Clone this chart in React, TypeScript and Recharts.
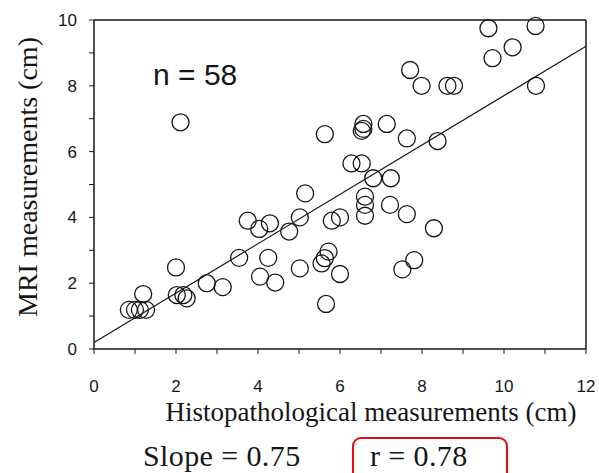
import { ScatterChart, Scatter, XAxis, YAxis, ReferenceLine } from "recharts";

// histopathological size (x) vs MRI size (y), both in cm
const histoCm = [
  0.85, 1.0, 1.12, 1.27, 1.2, 2.0, 2.02, 2.18, 2.26, 2.11,
  2.75, 3.14, 3.54, 3.75, 4.03, 4.29, 4.05, 4.25, 4.42, 4.76,
  5.02, 5.02, 5.15, 5.66, 5.55, 5.63, 5.72, 5.8, 6.0, 6.0,
  5.63, 6.28, 6.53, 6.81, 7.24, 6.61, 6.61, 6.61, 7.22, 7.63,
  8.29, 7.52, 7.81, 6.57, 6.57, 6.53, 7.14, 7.63, 8.38, 7.71,
  7.99, 8.62, 8.78, 10.78, 9.62, 10.77, 10.21, 9.72,
];
const mriCm = [
  1.19, 1.19, 1.19, 1.19, 1.67, 2.48, 1.64, 1.64, 1.54, 6.89,
  2.0, 1.88, 2.77, 3.9, 3.65, 3.82, 2.2, 2.77, 2.02, 3.57,
  4.0, 2.45, 4.73, 1.37, 2.6, 2.76, 2.96, 3.9, 4.0, 2.28,
  6.53, 5.64, 5.64, 5.19, 5.19, 4.63, 4.38, 4.05, 4.38, 4.1,
  3.67, 2.42, 2.7, 6.84, 6.69, 6.63, 6.84, 6.4, 6.32, 8.48,
  8.0, 8.0, 8.0, 8.0, 9.75, 9.82, 9.17, 8.84,
];

const xTicks = [0, 1, 2, 3, 4, 5, 6, 7, 8, 9, 10, 11, 12];
const yTicks = [0, 1, 2, 3, 4, 5, 6, 7, 8, 9, 10];

const slope = 0.75;
const intercept = 0.2;
const sampleSize = 58;
const rValue = 0.78;

const points = histoCm.map((x, i) => ({ x, y: mriCm[i] }));

const ink = "#161616";
const sans = "'Liberation Sans', Arial, sans-serif";
const serif = "'Liberation Serif', 'Times New Roman', serif";

const evenOnly = (v: number) => (v % 2 === 0 ? String(v) : "");
const blank = () => "";

const Ring = (props: any) => (
  <circle
    cx={props.cx}
    cy={props.cy}
    r={8.5}
    fill="none"
    stroke={ink}
    strokeWidth={1.3}
  />
);

export default function App() {
  const tickStyle = { fontSize: 17, fill: ink, fontFamily: sans };

  return (
    <div
      style={{
        position: "relative",
        width: 599,
        height: 473,
        overflow: "hidden",
        background: "#fff",
      }}
    >
      <style>{"body{margin:0}"}</style>

      <ScatterChart
        width={599}
        height={473}
        margin={{ top: 0, right: 0, bottom: 0, left: 0 }}
      >
        <XAxis
          xAxisId="b"
          type="number"
          dataKey="x"
          domain={[0, 12]}
          ticks={xTicks}
          tickFormatter={evenOnly}
          interval={0}
          height={124}
          tick={tickStyle}
          tickSize={5}
          tickMargin={26}
          axisLine={{ stroke: ink, strokeWidth: 1.5 }}
          tickLine={{ stroke: ink }}
        />
        <XAxis
          xAxisId="t"
          orientation="top"
          type="number"
          domain={[0, 12]}
          ticks={xTicks}
          tickFormatter={blank}
          interval={0}
          height={20}
          tickSize={5}
          axisLine={{ stroke: ink, strokeWidth: 1.5 }}
          tickLine={{ stroke: ink }}
        />
        <YAxis
          yAxisId="l"
          type="number"
          dataKey="y"
          domain={[0, 10]}
          ticks={yTicks}
          tickFormatter={evenOnly}
          interval={0}
          width={94}
          tick={tickStyle}
          tickSize={5}
          tickMargin={12}
          axisLine={{ stroke: ink, strokeWidth: 1.5 }}
          tickLine={{ stroke: ink }}
        />
        <YAxis
          yAxisId="r"
          orientation="right"
          type="number"
          domain={[0, 10]}
          ticks={yTicks}
          tickFormatter={blank}
          interval={0}
          width={13}
          tickSize={5}
          axisLine={{ stroke: ink, strokeWidth: 1.5 }}
          tickLine={{ stroke: ink }}
        />
        <ReferenceLine
          xAxisId="b"
          yAxisId="l"
          segment={[
            { x: 0, y: intercept },
            { x: 12, y: intercept + slope * 12 },
          ]}
          stroke={ink}
          strokeWidth={1.2}
        />
        <Scatter
          xAxisId="b"
          yAxisId="l"
          data={points}
          shape={Ring}
          isAnimationActive={false}
        />
      </ScatterChart>

      <div
        style={{
          position: "absolute",
          left: 153,
          top: 60,
          lineHeight: 1,
          whiteSpace: "nowrap",
          fontFamily: sans,
          fontSize: 30,
          color: ink,
        }}
      >
        n = {sampleSize}
      </div>

      <div
        style={{
          position: "absolute",
          left: 27.6,
          top: 177,
          lineHeight: 1,
          transform: "translate(-50%, -50%) rotate(-90deg)",
          whiteSpace: "nowrap",
          fontFamily: serif,
          fontSize: 28,
          color: ink,
        }}
      >
        MRI measurements (cm)
      </div>

      <div
        style={{
          position: "absolute",
          left: 371,
          top: 399,
          lineHeight: 1,
          transform: "translateX(-50%)",
          whiteSpace: "nowrap",
          fontFamily: serif,
          fontSize: 27,
          color: ink,
        }}
      >
        Histopathological measurements (cm)
      </div>

      <div
        style={{
          position: "absolute",
          left: 143,
          top: 441,
          lineHeight: 1,
          whiteSpace: "nowrap",
          fontFamily: serif,
          fontSize: 30,
          letterSpacing: 0.4,
          color: ink,
        }}
      >
        Slope = {slope.toFixed(2)}
      </div>

      <div
        style={{
          position: "absolute",
          left: 352,
          top: 437,
          width: 156,
          height: 50,
          border: "2px solid #e01010",
          borderRadius: 9,
          boxSizing: "border-box",
        }}
      />
      <div
        style={{
          position: "absolute",
          left: 370,
          top: 441,
          lineHeight: 1,
          whiteSpace: "nowrap",
          fontFamily: serif,
          fontSize: 30,
          letterSpacing: 0.4,
          color: ink,
        }}
      >
        r = {rValue.toFixed(2)}
      </div>
    </div>
  );
}
